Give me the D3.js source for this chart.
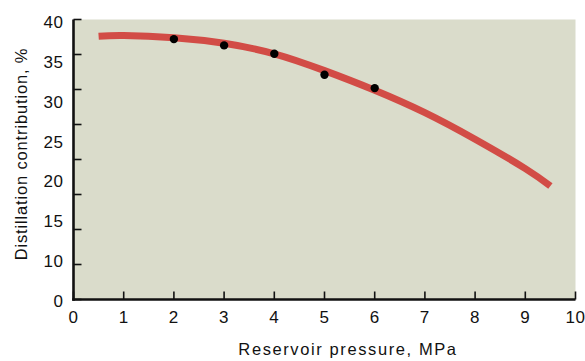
<!DOCTYPE html>
<html>
<head>
<meta charset="utf-8">
<script src="https://cdn.jsdelivr.net/npm/d3@7"></script>
<style>
  body { margin: 0; background: #fff; }
  svg text { font-family: "Liberation Sans", Arial, sans-serif; fill: #111; }
  .tickLabel { font-size: 17px; letter-spacing: 0.6px; }
  .axisTitle { font-size: 16.5px; letter-spacing: 1.6px; }
  #yTitle { letter-spacing: 0.85px; }
</style>
</head>
<body>
<div id="chart"></div>
<script>
// fitted curve
var curveX = [0.5, 1, 2, 3, 4, 5, 6, 7, 8, 9, 9.5];
var curveY = [37.6, 37.7, 37.4, 36.6, 35.1, 32.7, 29.9, 26.7, 22.9, 18.7, 16.2];

// measured points
var pointX = [2, 3, 4, 5, 6];
var pointY = [37.2, 36.3, 35.1, 32.1, 30.2];

var xTicks = [0, 1, 2, 3, 4, 5, 6, 7, 8, 9, 10];
var yTicks = [0, 5, 10, 15, 20, 25, 30, 35, 40];
// the original labels skip 5 and are spread evenly down the axis
var yTickLabels = ["40", "35", "30", "25", "20", "15", "10", "0"];

var width = 585, height = 361;

var x = d3.scaleLinear().domain([0, 10]).range([73.5, 575.5]);
var y = d3.scaleLinear().domain([0, 40]).range([299.5, 19.5]);
var yLabelPos = d3.scalePoint().domain(yTickLabels).range([28.3, 306.8]);

var svg = d3.select("#chart").append("svg")
    .attr("width", width)
    .attr("height", height);

// plot background
svg.append("rect")
    .attr("x", x(0))
    .attr("y", y(40))
    .attr("width", x(10) - x(0))
    .attr("height", y(0) - y(40))
    .attr("fill", "#dadccb");

// tick marks, pointing inward
svg.append("g").selectAll("line").data(xTicks).enter()
    .append("line")
    .attr("x1", function(d) { return x(d); })
    .attr("x2", function(d) { return x(d); })
    .attr("y1", y(0))
    .attr("y2", y(0) - 8)
    .attr("stroke", "#111")
    .attr("stroke-width", 1.6);

svg.append("g").selectAll("line").data(yTicks).enter()
    .append("line")
    .attr("x1", x(0))
    .attr("x2", x(0) + 8)
    .attr("y1", function(d) { return y(d); })
    .attr("y2", function(d) { return y(d); })
    .attr("stroke", "#111")
    .attr("stroke-width", 1.6);

// axis lines
svg.append("line")
    .attr("x1", x(0)).attr("x2", x(0))
    .attr("y1", y(40)).attr("y2", y(0) + 1.3)
    .attr("stroke", "#111").attr("stroke-width", 2.6);
svg.append("line")
    .attr("x1", x(0) - 1.3).attr("x2", x(10))
    .attr("y1", y(0)).attr("y2", y(0))
    .attr("stroke", "#111").attr("stroke-width", 2.6);

// tick labels
svg.append("g").selectAll("text").data(xTicks).enter()
    .append("text")
    .attr("class", "tickLabel")
    .attr("x", function(d) { return x(d); })
    .attr("y", 322.7)
    .attr("text-anchor", "middle")
    .text(function(d) { return d; });

svg.append("g").selectAll("text").data(yTickLabels).enter()
    .append("text")
    .attr("class", "tickLabel")
    .attr("x", 63.5)
    .attr("y", function(d) { return yLabelPos(d); })
    .attr("text-anchor", "end")
    .text(function(d) { return d; });

// axis titles
svg.append("text")
    .attr("class", "axisTitle")
    .attr("x", 348)
    .attr("y", 355)
    .attr("text-anchor", "middle")
    .text("Reservoir pressure, MPa");

svg.append("text")
    .attr("class", "axisTitle")
    .attr("id", "yTitle")
    .attr("transform", "translate(26.5,154) rotate(-90)")
    .attr("text-anchor", "middle")
    .text("Distillation contribution, %");

// curve
var line = d3.line()
    .x(function(d) { return x(d[0]); })
    .y(function(d) { return y(d[1]); })
    .curve(d3.curveNatural);

svg.append("path")
    .datum(d3.zip(curveX, curveY))
    .attr("d", line)
    .attr("fill", "none")
    .attr("stroke", "#d24c46")
    .attr("stroke-width", 7);

// points
svg.append("g").selectAll("circle").data(d3.zip(pointX, pointY)).enter()
    .append("circle")
    .attr("cx", function(d) { return x(d[0]); })
    .attr("cy", function(d) { return y(d[1]); })
    .attr("r", 4.2)
    .attr("fill", "#000");
</script>
</body>
</html>
